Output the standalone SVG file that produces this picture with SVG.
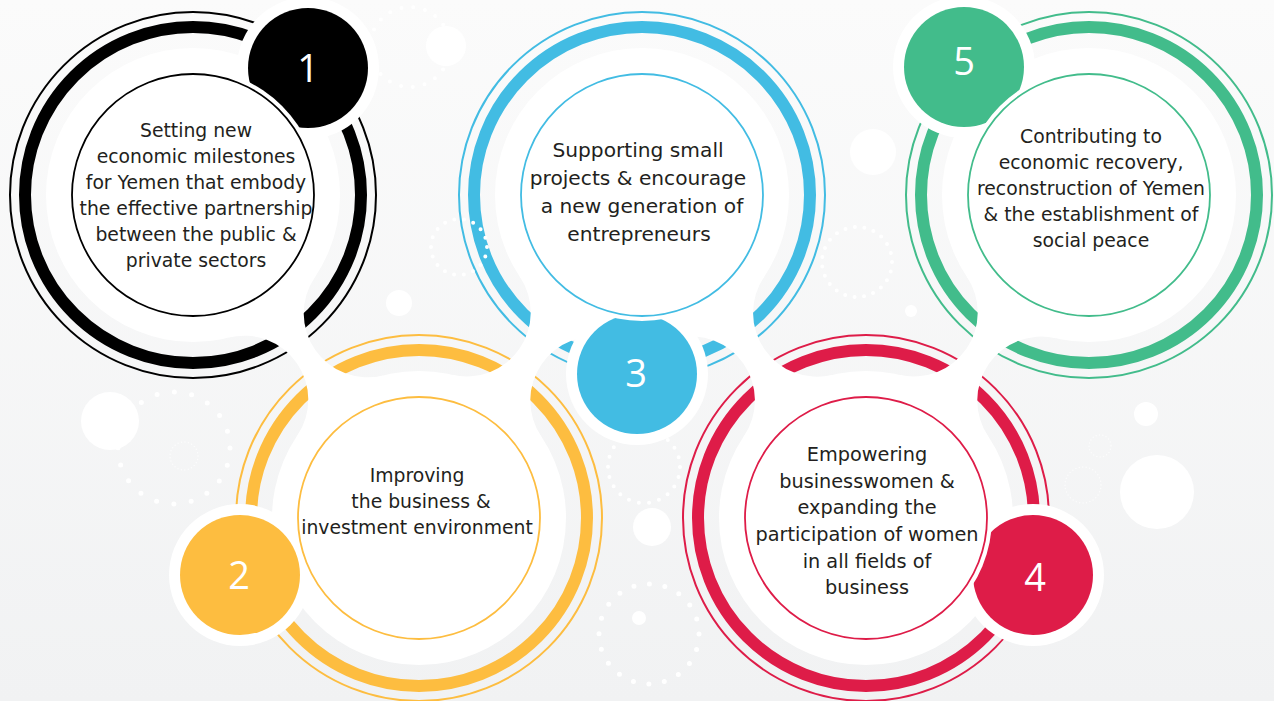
<svg xmlns="http://www.w3.org/2000/svg" width="1274" height="701" viewBox="0 0 1274 701">
<defs>
<linearGradient id="bg" x1="0" y1="0" x2="0" y2="1">
<stop offset="0" stop-color="#fbfbfb"/>
<stop offset="1" stop-color="#f1f2f3"/>
</linearGradient>
<style>
.thin{fill:none;stroke-width:2}
.thick{fill:none;stroke-width:12}
.w{fill:#fff}
.inner{fill:#fff;stroke-width:1.8}
.txt{font-family:"DejaVu Sans",Verdana,sans-serif;font-size:18.8px;fill:#231f20;text-anchor:middle}
.num{font-family:"Open Sans","Noto Sans",sans-serif;font-size:38px;fill:#fff;text-anchor:middle}
.dots{fill:none;stroke:#fff;stroke-linecap:round}
.k{stroke:#000}.y{stroke:#fdbd40}.b{stroke:#42bce3}.r{stroke:#de1c48}.g{stroke:#42bc8b}
</style>
</defs>
<rect width="1274" height="701" fill="url(#bg)"/>

<g id="rings">
<g id="rings-1"><circle class="thin k" cx="193" cy="195" r="183"/><circle class="thick k" cx="193" cy="195" r="168"/></g>
<g id="rings-2"><circle class="thin y" cx="419" cy="518" r="183"/><circle class="thick y" cx="419" cy="518" r="168"/></g>
<g id="rings-3"><circle class="thin b" cx="642" cy="195" r="183"/><circle class="thick b" cx="642" cy="195" r="168"/></g>
<g id="rings-4"><circle class="thin r" cx="866" cy="518" r="183"/><circle class="thick r" cx="866" cy="518" r="168"/></g>
<g id="rings-5"><circle class="thin g" cx="1089" cy="195" r="183"/><circle class="thick g" cx="1089" cy="195" r="168"/></g>
</g>

<g id="decor">
<circle class="w" cx="110" cy="421" r="29"/>
<circle class="w" cx="446" cy="46" r="20"/>
<circle class="w" cx="399" cy="303" r="13"/>
<circle class="w" cx="911" cy="311" r="6"/>
<circle class="w" cx="873" cy="152" r="23"/>
<circle class="w" cx="1146" cy="414" r="12"/>
<circle class="w" cx="1157" cy="492" r="37"/>
<circle class="w" cx="652" cy="527" r="19"/>
<circle class="w" cx="639" cy="618" r="7"/>
<circle class="dots" cx="174" cy="448" r="56" stroke-width="5" stroke-dasharray="0 17.59"/>
<circle class="dots" cx="410" cy="47" r="40" stroke-width="4" stroke-dasharray="0 11.97"/>
<circle class="dots" cx="459" cy="247" r="28" stroke-width="4" stroke-dasharray="0 9.77"/>
<circle class="dots" cx="857" cy="262" r="35" stroke-width="4" stroke-dasharray="0 9.56"/>
<circle class="dots" cx="644" cy="467" r="36" stroke-width="4" stroke-dasharray="0 10.28"/>
<circle class="dots" cx="649" cy="634" r="50" stroke-width="5" stroke-dasharray="0 15.71"/>
<circle class="dots" cx="184" cy="456" r="14" stroke-width="1.5" stroke-dasharray="0 3.5" opacity="0.7"/>
<circle class="dots" cx="1100" cy="446" r="11" stroke-width="1.5" stroke-dasharray="0 3.4" opacity="0.7"/>
<circle class="dots" cx="1083" cy="485" r="18" stroke-width="1.5" stroke-dasharray="0 3.5" opacity="0.7"/>
</g>

<g id="connectors" fill="#fff">
<path d="M193 195 L228.73 337.60 A64 64 0 0 1 297.28 435.57 L419 518 L383.27 375.40 A64 64 0 0 1 314.72 277.43 Z"/>
<path d="M419 518 L541.11 436.16 A64 64 0 0 1 608.75 338.19 L642 195 L519.89 276.84 A64 64 0 0 1 452.25 374.81 Z"/>
<path d="M642 195 L676.08 337.99 A64 64 0 0 1 744.03 435.97 L866 518 L831.92 375.01 A64 64 0 0 1 763.97 277.03 Z"/>
<path d="M866 518 L988.11 436.16 A64 64 0 0 1 1055.75 338.19 L1089 195 L966.89 276.84 A64 64 0 0 1 899.25 374.81 Z"/>
</g>

<g id="node-1">
<circle class="w" cx="193" cy="195" r="147"/>
<circle class="w" cx="308" cy="68" r="71"/>
<circle cx="308" cy="68" r="60" fill="#000"/>
<text class="num" x="308" y="82">1</text>
<circle class="w" cx="193" cy="195" r="126"/>
<circle class="inner k" cx="193" cy="195" r="121"/>
<text class="txt" x="196" y="137">Setting new</text>
<text class="txt" x="196" y="163">economic milestones</text>
<text class="txt" x="196" y="189">for Yemen that embody</text>
<text class="txt" x="196" y="215">the effective partnership</text>
<text class="txt" x="196" y="241">between the public &amp;</text>
<text class="txt" x="196" y="267">private sectors</text>
</g>

<g id="node-2">
<circle class="w" cx="419" cy="518" r="147"/>
<circle class="w" cx="240" cy="575" r="71"/>
<circle cx="240" cy="575" r="60" fill="#fdbd40"/>
<text class="num" x="239" y="589">2</text>
<circle class="w" cx="419" cy="518" r="126"/>
<circle class="inner y" cx="419" cy="518" r="121"/>
<text class="txt" x="417" y="482">Improving</text>
<text class="txt" x="421" y="508">the business &amp;</text>
<text class="txt" x="417" y="534">investment environment</text>
</g>

<g id="node-3">
<circle class="w" cx="642" cy="195" r="147"/>
<circle class="w" cx="637" cy="374" r="71"/>
<circle cx="637" cy="374" r="60" fill="#42bce3"/>
<text class="num" x="636" y="387">3</text>
<circle class="w" cx="642" cy="195" r="126"/>
<circle class="inner b" cx="642" cy="195" r="121"/>
<text class="txt" style="font-size:20.2px" x="638" y="157">Supporting small</text>
<text class="txt" style="font-size:20.2px" x="638" y="185">projects &amp; encourage</text>
<text class="txt" style="font-size:20.2px" x="642" y="213">a new generation of</text>
<text class="txt" style="font-size:20.2px" x="639" y="241">entrepreneurs</text>
</g>

<g id="node-4">
<circle class="w" cx="866" cy="518" r="147"/>
<circle class="w" cx="1033" cy="575" r="71"/>
<circle cx="1033" cy="575" r="60" fill="#de1c48"/>
<text class="num" x="1035" y="591">4</text>
<circle class="w" cx="866" cy="518" r="126"/>
<circle class="inner r" cx="866" cy="518" r="121"/>
<text class="txt" style="font-size:19.3px" x="867" y="461">Empowering</text>
<text class="txt" style="font-size:19.3px" x="867" y="488">businesswomen &amp;</text>
<text class="txt" style="font-size:19.3px" x="867" y="514">expanding the</text>
<text class="txt" style="font-size:19.3px" x="867" y="541">participation of women</text>
<text class="txt" style="font-size:19.3px" x="867" y="568">in all fields of</text>
<text class="txt" style="font-size:19.3px" x="867" y="594">business</text>
</g>

<g id="node-5">
<circle class="w" cx="1089" cy="195" r="147"/>
<circle class="w" cx="964" cy="67" r="71"/>
<circle cx="964" cy="67" r="60" fill="#42bc8b"/>
<text class="num" x="964" y="75">5</text>
<circle class="w" cx="1089" cy="195" r="126"/>
<circle class="inner g" cx="1089" cy="195" r="121"/>
<text class="txt" x="1091" y="143">Contributing to</text>
<text class="txt" x="1091" y="169">economic recovery,</text>
<text class="txt" x="1091" y="195">reconstruction of Yemen</text>
<text class="txt" x="1091" y="221">&amp; the establishment of</text>
<text class="txt" x="1091" y="247">social peace</text>
</g>
</svg>
